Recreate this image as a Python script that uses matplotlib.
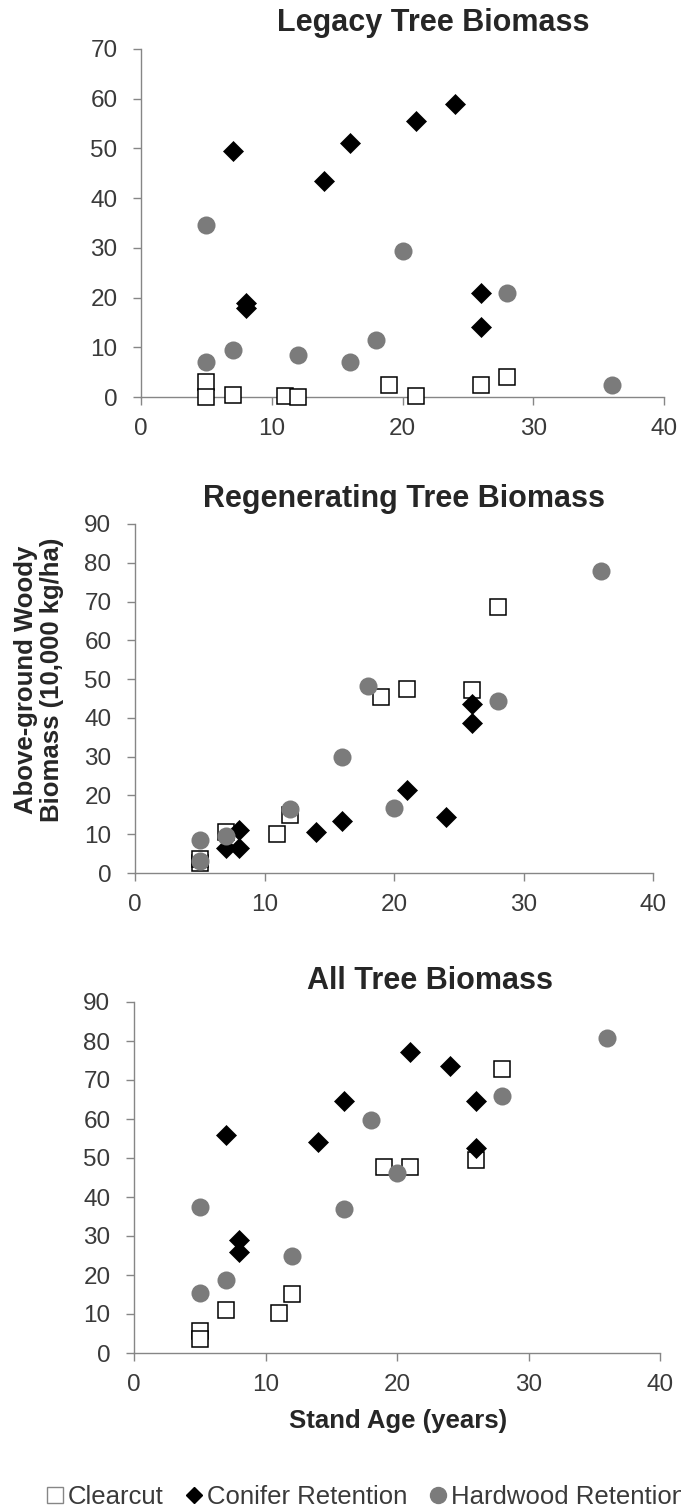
import matplotlib
matplotlib.use("Agg")
import matplotlib.pyplot as plt
from matplotlib.lines import Line2D

plt.rcParams['font.family'] = ['Liberation Sans', 'DejaVu Sans']

# stand age (years) for each treatment
age_clearcut = [5, 5, 7, 11, 12, 19, 21, 26, 28]
age_conifer = [7, 8, 8, 14, 16, 21, 24, 26, 26]
age_hardwood = [5, 5, 7, 12, 16, 18, 20, 28, 36]

# biomass (10,000 kg/ha)
legacy_clearcut = [3.0, 0.0, 0.5, 0.2, 0.0, 2.4, 0.2, 2.4, 4.1]
legacy_conifer = [49.5, 19.0, 18.0, 43.5, 51.0, 55.5, 59.0, 21.0, 14.0]
legacy_hardwood = [34.5, 7.0, 9.5, 8.5, 7.0, 11.5, 29.3, 21.0, 2.5]

regen_clearcut = [2.5, 3.7, 10.5, 10.0, 15.0, 45.3, 47.5, 47.3, 68.7]
regen_conifer = [6.5, 11.0, 6.5, 10.5, 13.5, 21.5, 14.5, 43.5, 38.7]
regen_hardwood = [3.0, 8.4, 9.5, 16.5, 29.8, 48.3, 16.8, 44.3, 78.0]

all_clearcut = [5.6, 3.6, 10.9, 10.3, 15.1, 47.6, 47.8, 49.6, 72.9]
all_conifer = [56.0, 29.0, 25.8, 54.0, 64.5, 77.1, 73.6, 64.5, 52.6]
all_hardwood = [37.5, 15.4, 18.8, 24.9, 37.0, 59.8, 46.2, 65.8, 80.8]

titles = ["Legacy Tree Biomass", "Regenerating Tree Biomass", "All Tree Biomass"]
ymax = [70, 90, 90]

W, H = 681, 1510
fig = plt.figure(figsize=(W / 100, H / 100), dpi=100)

# plot boxes in pixels: left, right, top, bottom
boxes = [(141, 664, 49, 397), (135, 653, 524, 873), (134, 660, 1002, 1353)]
title_pos = [(433, 31), (404, 507), (430, 989)]

axis_col = '#868686'
text_col = '#3a3a3a'
gray = '#7b7b7b'

panels = [
    (legacy_clearcut, legacy_conifer, legacy_hardwood),
    (regen_clearcut, regen_conifer, regen_hardwood),
    (all_clearcut, all_conifer, all_hardwood),
]

for i, (cc, cr, hr) in enumerate(panels):
    l, r, t, b = boxes[i]
    ax = fig.add_axes([l / W, 1 - b / H, (r - l) / W, (b - t) / H])
    ax.plot(age_clearcut, cc, 's', ms=11.5, mfc='white', mec='black', mew=1.1,
            clip_on=False, zorder=3)
    ax.plot(age_conifer, cr, 'D', ms=10.2, mfc='black', mec='black', mew=0.5,
            clip_on=False, zorder=4)
    ax.plot(age_hardwood, hr, 'o', ms=13, mfc=gray, mec=gray, mew=0,
            clip_on=False, zorder=5)

    ax.set_xlim(0, 40)
    ax.set_ylim(0, ymax[i])
    ax.set_xticks(range(0, 41, 10))
    ax.set_yticks(range(0, ymax[i] + 1, 10))
    for s in ['top', 'right']:
        ax.spines[s].set_visible(False)
    for s in ['left', 'bottom']:
        ax.spines[s].set_color(axis_col)
        ax.spines[s].set_linewidth(1.0)
    ax.tick_params(axis='both', direction='out', length=6, width=1.0,
                   color=axis_col, labelcolor=text_col, labelsize=17.5)
    ax.tick_params(axis='y', pad=11)
    ax.tick_params(axis='x', pad=9)
    ax.patch.set_alpha(0)

    tx, ty = title_pos[i]
    fig.text(tx / W, 1 - ty / H, titles[i], ha='center', va='baseline',
             fontsize=22, fontweight='bold', color='#262626')

fig.text(39 / W, 1 - 680 / H, "Above-ground Woody\nBiomass (10,000 kg/ha)",
         rotation=90, ha='center', va='center', multialignment='center',
         fontsize=18.5, fontweight='bold', color='#262626', linespacing=1.15)

fig.text(398 / W, 1 - 1428 / H, "Stand Age (years)", ha='center', va='baseline',
         fontsize=18.5, fontweight='bold', color='#262626')

handles = [
    Line2D([], [], ls='none', marker='s', ms=11, mfc='white', mec=axis_col, mew=1.0),
    Line2D([], [], ls='none', marker='D', ms=8, mfc='black', mec='black'),
    Line2D([], [], ls='none', marker='o', ms=11.5, mfc=gray, mec=gray),
]
labels = ["Clearcut", "Conifer Retention", "Hardwood Retention"]
leg = fig.legend(handles, labels, loc='center left', ncol=3,
                 bbox_to_anchor=(47 / W, 1 - 1497 / H), frameon=False,
                 fontsize=18.5, handlelength=0.65, handletextpad=0.17,
                 columnspacing=0.86, borderpad=0, borderaxespad=0)
for txt in leg.get_texts():
    txt.set_color(text_col)

fig.savefig("out.png", dpi=100)
